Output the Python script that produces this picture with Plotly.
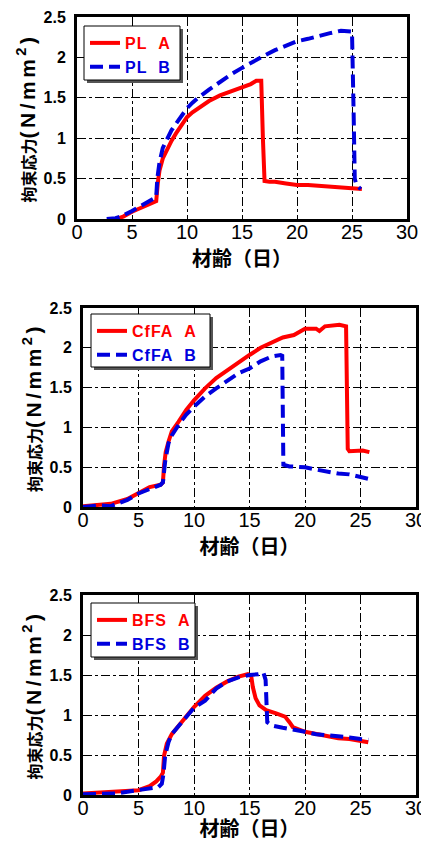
import plotly.graph_objects as go

# ---------------- data ----------------
pl_a_x = [3.6, 4.2, 5.0, 5.5, 6.0, 6.5, 7.0, 7.2, 7.35, 7.5, 7.8, 8.2, 8.6, 9.0, 9.5, 10.0, 10.5, 11.0, 12.0,
          13.0, 14.0, 15.0, 15.8, 16.3, 16.75, 16.9, 17.05, 17.5, 18.0, 19.0, 20.0, 21.0, 22.0, 23.0, 24.0, 25.0, 25.9]
pl_a_y = [0.0, 0.03, 0.09, 0.12, 0.15, 0.17, 0.2, 0.22, 0.45, 0.6, 0.75, 0.87, 0.97, 1.06, 1.17, 1.26, 1.32, 1.37, 1.46,
          1.53, 1.58, 1.63, 1.67, 1.71, 1.71, 1.0, 0.47, 0.46, 0.46, 0.44, 0.42, 0.42, 0.41, 0.40, 0.39, 0.38, 0.37]

pl_b_x = [2.7, 3.5, 4.0, 4.5, 5.0, 5.5, 6.0, 6.5, 7.0, 7.2, 7.3, 7.5, 7.8, 8.2, 8.6, 9.0, 9.5, 10.0, 10.5, 11.0,
          12.0, 13.0, 14.0, 15.0, 16.0, 17.0, 18.0, 19.0, 20.0, 21.0, 22.0, 23.0, 24.0, 24.7, 25.0, 25.15, 25.25,
          25.4, 25.8]
pl_b_y = [0.0, 0.01, 0.03, 0.06, 0.1, 0.14, 0.18, 0.22, 0.25, 0.27, 0.5, 0.7, 0.88, 1.0, 1.1, 1.18, 1.28, 1.37, 1.44, 1.5,
          1.6, 1.7, 1.79, 1.87, 1.95, 2.02, 2.09, 2.15, 2.2, 2.23, 2.27, 2.3, 2.33, 2.33, 2.32, 1.3, 0.5,
          0.42, 0.37]

cffa_a_x = [0.0, 1.0, 2.5, 4.0, 5.0, 6.0, 7.0, 7.2, 7.3, 7.45, 7.7, 8.0, 8.6, 9.3, 10.0, 11.0, 12.0, 13.0, 14.0,
            15.0, 16.0, 17.0, 18.0, 19.0, 20.0, 21.0, 21.3, 21.8, 22.5, 23.1, 23.7, 23.85, 24.0, 24.6, 25.2, 25.8]
cffa_a_y = [0.01, 0.02, 0.04, 0.1, 0.17, 0.25, 0.28, 0.31, 0.52, 0.69, 0.82, 0.95, 1.07, 1.22, 1.34, 1.49, 1.62, 1.72,
            1.82, 1.91, 2.0, 2.06, 2.13, 2.16, 2.24, 2.24, 2.21, 2.27, 2.28, 2.29, 2.27, 0.73, 0.7, 0.71, 0.71, 0.69]

cffa_b_x = [0.0, 1.5, 2.5, 3.0, 4.0, 5.0, 6.0, 7.0, 7.2, 7.4, 7.7, 8.0, 8.7, 9.3, 10.0, 11.0, 12.0, 13.0, 14.0, 15.0,
            16.0, 17.0, 17.8, 17.95, 18.05, 18.6, 20.0, 21.0, 22.0, 23.0, 24.0, 25.0, 25.8]
cffa_b_y = [0.0, 0.02, 0.01, 0.04, 0.09, 0.17, 0.23, 0.28, 0.31, 0.57, 0.8, 0.9, 1.05, 1.16, 1.26, 1.39, 1.49, 1.58,
            1.68, 1.74, 1.83, 1.89, 1.91, 1.9, 0.53, 0.51, 0.5, 0.47, 0.44, 0.42, 0.41, 0.38, 0.35]

bfs_a_x = [0.0, 1.5, 3.0, 4.0, 5.0, 6.0, 6.6, 7.0, 7.2, 7.3, 7.55, 8.0, 9.0, 10.0, 11.0, 12.0, 13.0, 14.0, 14.85,
           15.15, 15.3, 15.55, 15.9, 16.5, 17.4, 18.2, 18.6, 18.9, 20.0, 21.0, 22.0, 23.0, 24.0, 25.0, 25.7]
bfs_a_y = [0.02, 0.03, 0.04, 0.05, 0.06, 0.11, 0.17, 0.23, 0.28, 0.49, 0.64, 0.76, 0.93, 1.1, 1.24, 1.34, 1.42, 1.48,
           1.51, 1.49, 1.35, 1.21, 1.12, 1.06, 1.02, 0.98, 0.91, 0.85, 0.79, 0.76, 0.74, 0.71, 0.7, 0.68, 0.66]

bfs_b_x = [0.0, 1.5, 3.0, 4.0, 5.0, 6.0, 6.8, 7.1, 7.25, 7.4, 7.7, 8.0, 9.0, 10.0, 11.0, 12.0, 13.0, 14.0, 15.0,
           15.8, 16.25, 16.45, 16.6, 17.0, 18.0, 19.0, 20.0, 21.0, 22.0, 23.0, 24.0, 25.0, 25.7]
bfs_b_y = [0.01, 0.01, 0.02, 0.04, 0.06, 0.09, 0.1, 0.14, 0.26, 0.49, 0.66, 0.76, 0.92, 1.09, 1.18, 1.33, 1.42, 1.47,
           1.5, 1.51, 1.53, 1.44, 0.91, 0.87, 0.84, 0.82, 0.79, 0.76, 0.75, 0.74, 0.72, 0.7, 0.69]

panel_names = [("PL", "PL"), ("CfFA", "CfFA"), ("BFS", "BFS")]
series = [
    (pl_a_x, pl_a_y, pl_b_x, pl_b_y),
    (cffa_a_x, cffa_a_y, cffa_b_x, cffa_b_y),
    (bfs_a_x, bfs_a_y, bfs_b_x, bfs_b_y),
]
x_ticks = [0, 5, 10, 15, 20, 25, 30]
y_ticks = [0, 0.5, 1, 1.5, 2, 2.5]
x_title = "材齢（日）"
y_title = ("<span style='font-family:Noto Sans CJK JP;font-size:16px'>拘束応力</span>"
           "<span style='letter-spacing:3.5px'>(N/mm<sup>2</sup>)</span>")

# ---------------- layout geometry (window pixels) ----------------
OFF = 8                      # default page margin around the plot div
W, H = 429 - OFF, 842 - OFF  # figure size that fills the rest of the window
panels_px = [  # left, right, top, bottom (window pixels)
    (77, 407, 17, 219),
    (83, 416, 308, 507),
    (83, 416, 595, 795),
]
legend_box_px = [  # left, top, right, bottom (window pixels)
    (84, 26, 180, 80),
    (91, 314, 210, 367),
    (91, 603, 195, 657),
]

RED = "#FF0000"
BLUE = "#0000DD"
LAT = "Liberation Sans, Arial, sans-serif"
CJK = "Noto Sans CJK JP, sans-serif"


def fx(px):
    return (px - OFF) / W


def fy(py):
    return 1 - (py - OFF) / H


fig = go.Figure()
for i, ((na, nb), (ax, ay, bx, by)) in enumerate(zip(panel_names, series)):
    sfx = "" if i == 0 else str(i + 1)
    leg = "legend" + sfx
    fig.add_trace(go.Scatter(
        x=ax, y=ay, mode="lines", xaxis="x" + sfx, yaxis="y" + sfx, legend=leg,
        name=f"<span style='color:{RED};letter-spacing:1px'>{na}\u00a0\u00a0A</span>",
        line=dict(color=RED, width=4)))
    fig.add_trace(go.Scatter(
        x=bx, y=by, mode="lines", xaxis="x" + sfx, yaxis="y" + sfx, legend=leg,
        name=f"<span style='color:{BLUE};letter-spacing:1px'>{nb}\u00a0\u00a0B</span>",
        line=dict(color=BLUE, width=4, dash="13px,6px")))

layout = dict(
    width=W, height=H, margin=dict(l=0, r=0, t=0, b=0, autoexpand=False),
    paper_bgcolor="white", plot_bgcolor="white", showlegend=True,
    shapes=[],
)
for i, ((l, r, t, b), (ll, lt, lr, lb)) in enumerate(zip(panels_px, legend_box_px)):
    sfx = "" if i == 0 else str(i + 1)
    common = dict(
        showgrid=True, gridcolor="black", gridwidth=1, griddash="dashdot",
        showline=True, linecolor="black", linewidth=3, mirror=True,
        zeroline=False, ticks="", automargin=False, ticklabeloverflow="allow",
    )
    layout["xaxis" + sfx] = dict(
        common, domain=[fx(l), fx(r)], anchor="y" + sfx, range=[0, 30],
        tickvals=x_ticks, ticklabelstandoff=-7,
        tickfont=dict(family=LAT, size=20, color="black"),
        title=dict(text=x_title, standoff=0,
                   font=dict(family=CJK, size=20, color="black", weight="bold")))
    layout["yaxis" + sfx] = dict(
        common, domain=[fy(b), fy(t)], anchor="x" + sfx, range=[0, 2.5],
        tickvals=y_ticks, ticklabelstandoff=5,
        tickfont=dict(family=LAT, size=16, color="black", weight="bold"),
        title=dict(text=y_title, standoff=3,
                   font=dict(family=LAT, size=21, color="black", weight="bold")))
    layout["legend" + sfx] = dict(
        x=fx(ll + 1), y=fy(lt), xanchor="left", yanchor="top",
        bgcolor="rgba(0,0,0,0)", borderwidth=0,
        font=dict(family=LAT, size=16, color="black", weight="bold"),
        tracegroupgap=0, itemwidth=30,
    )
    # legend frame: drop shadow + white box with thin border
    layout["shapes"].append(dict(
        type="rect", xref="paper", yref="paper",
        x0=fx(ll + 3), x1=fx(lr + 3), y0=fy(lb + 3), y1=fy(lt + 3),
        fillcolor="#555555", line=dict(width=0), layer="above"))
    layout["shapes"].append(dict(
        type="rect", xref="paper", yref="paper",
        x0=fx(ll), x1=fx(lr), y0=fy(lb), y1=fy(lt),
        fillcolor="white", line=dict(color="black", width=1), layer="above"))

fig.update_layout(**layout)
fig.write_html("out.html")
